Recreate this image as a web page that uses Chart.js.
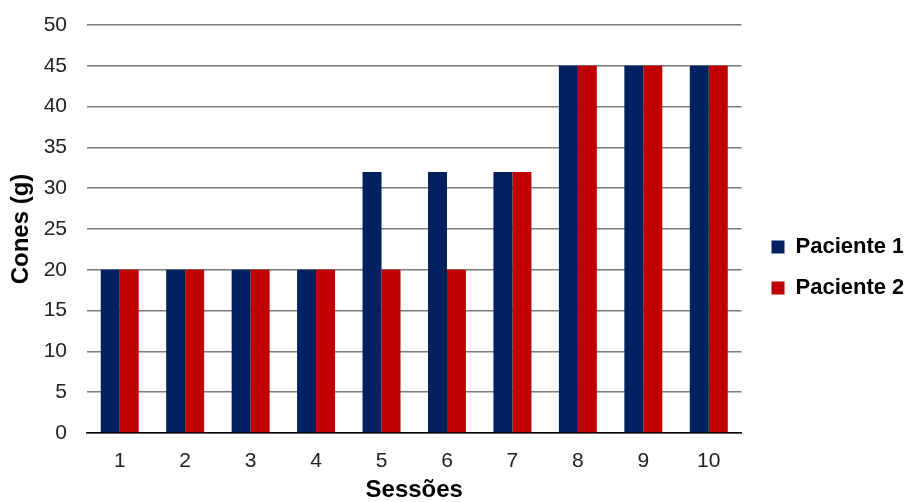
<!DOCTYPE html>
<html><head><meta charset="utf-8">
<script src="https://cdn.jsdelivr.net/npm/chart.js@4"></script>
<style>html,body{margin:0;padding:0;background:#fff}#wrap{width:906px;height:502px}</style>
</head><body><div id="wrap"><canvas id="c" width="906" height="502"></canvas></div>
<script>
const categories = ['1','2','3','4','5','6','7','8','9','10'];
const paciente1 = [20,20,20,20,32,32,32,45,45,45];
const paciente2 = [20,20,20,20,20,20,32,45,45,45];
const seriesNames = ['Paciente 1','Paciente 2'];
const yTicks = [0,5,10,15,20,25,30,35,40,45,50];

new Chart(document.getElementById('c'), {
  type: 'bar',
  data: {
    labels: categories,
    datasets: [
      {label: seriesNames[0], data: paciente1, backgroundColor: '#002060', categoryPercentage: 0.58, barPercentage: 1.0},
      {label: seriesNames[1], data: paciente2, backgroundColor: '#C00000', categoryPercentage: 0.58, barPercentage: 1.0}
    ]
  },
  options: {
    responsive: false,
    animation: false,
    devicePixelRatio: 1,
    layout: {padding: {top: 25, right: 3, bottom: 0, left: 0}},
    plugins: {
      legend: {
        position: 'right',
        align: 'center',
        title: {display: true, text: '', padding: 0, font: {size: 8, lineHeight: 1}},
        labels: {
          boxWidth: 13, boxHeight: 13, padding: 19,
          color: '#000',
          font: {family: 'Liberation Sans', size: 22, weight: 'bold'}
        }
      },
      tooltip: {enabled: false}
    },
    scales: {
      x: {
        grid: {display: false, drawTicks: false},
        border: {color: '#000', width: 1.5},
        ticks: {color: '#222', padding: 16, font: {family: 'Liberation Sans', size: 21}},
        title: {display: true, text: 'Sessões', color: '#000', padding: {top: 0, bottom: 0}, font: {family: 'Liberation Sans', size: 24, weight: 'bold', lineHeight: 1.0}},
        afterFit: s => { s.height = 69; }
      },
      y: {
        min: 0, max: 50,
        afterBuildTicks: s => { s.ticks = yTicks.map(v => ({value: v})); },
        grid: {color: '#7a7a7a', lineWidth: 1.5, drawTicks: false},
        border: {display: false},
        ticks: {color: '#222', padding: 20, font: {family: 'Liberation Sans', size: 21}},
        title: {display: true, text: 'Cones (g)', color: '#000', padding: {top: 9, bottom: 0}, font: {family: 'Liberation Sans', size: 24, weight: 'bold', lineHeight: 1.0}},
        afterFit: s => { s.width = 87; s.paddingTop = 0; s.paddingBottom = 0; }
      },
      yr: {
        position: 'right',
        display: true,
        grid: {display: false, drawTicks: false},
        border: {display: false},
        ticks: {display: false},
        afterFit: s => { s.width = 11; s.paddingTop = 0; s.paddingBottom = 0; }
      }
    }
  }
});
</script></body></html>
